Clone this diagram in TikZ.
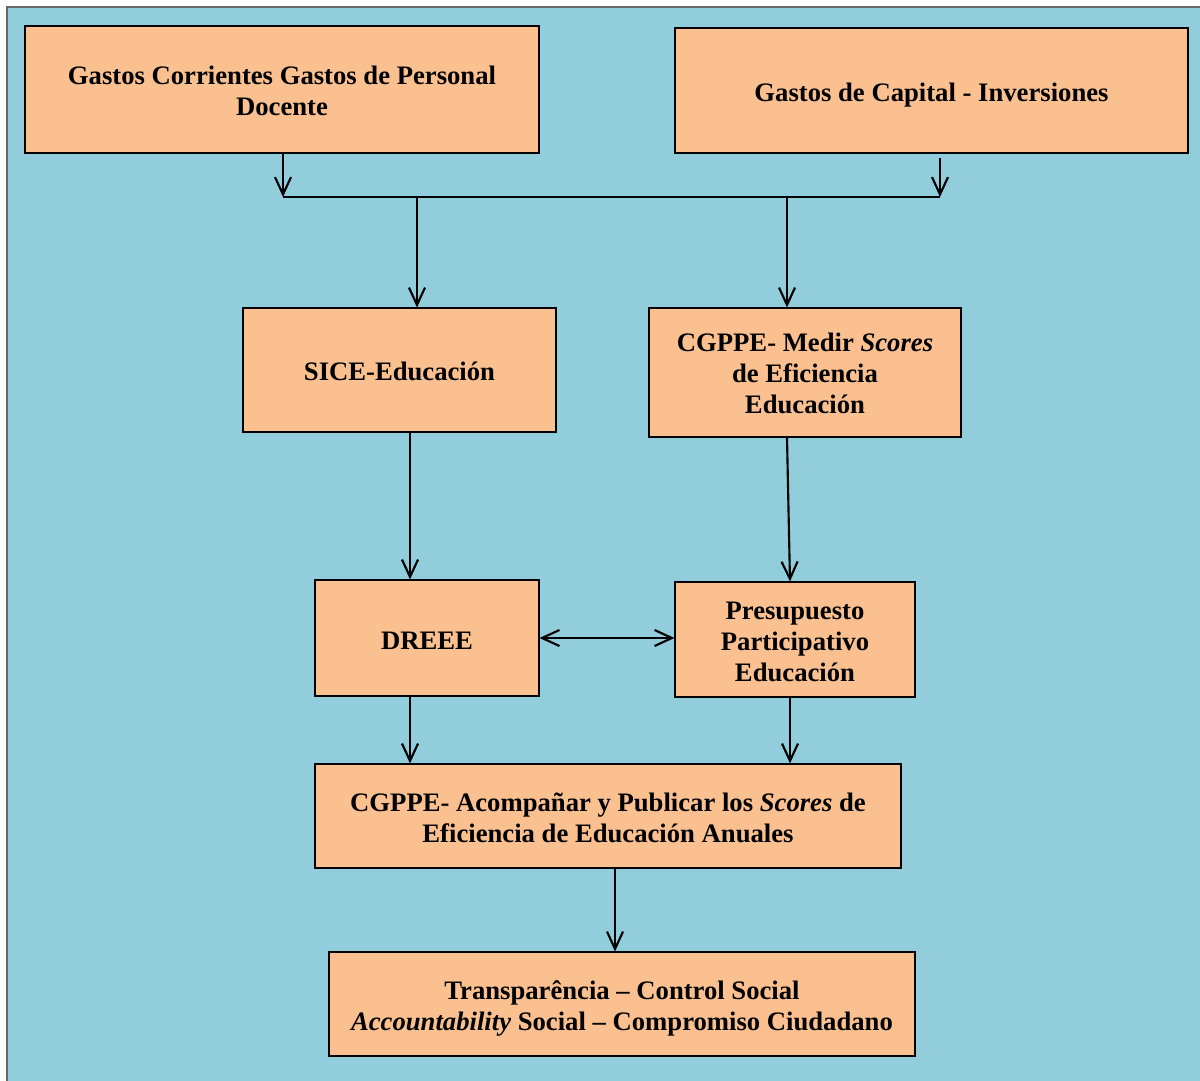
\documentclass[tikz,border=0pt]{standalone}
\usepackage{fontspec}
\setmainfont{Liberation Serif}
\usetikzlibrary{arrows.meta,calc}
\definecolor{bgblue}{HTML}{92CDDC}
\definecolor{boxorange}{HTML}{FAC08F}
\begin{document}
\begin{tikzpicture}[x=0.75pt,y=-0.75pt,
  box/.style={draw=black, line width=0.8pt, fill=boxorange, inner sep=0pt},
  txt/.style={inner sep=0pt, align=center, font=\fontsize{20}{23.25}\selectfont\bfseries},
  tip/.style={Straight Barb[length=13pt,width=12pt,line width=1.6pt]},
  arr/.style={line width=1.6pt, -{Straight Barb[length=13pt,width=12pt,line width=1.6pt]}},
  dbl/.style={line width=1.6pt, {Straight Barb[length=13pt,width=12pt,line width=1.6pt]}-{Straight Barb[length=13pt,width=12pt,line width=1.6pt]}},
  bus/.style={line width=1.6pt}]
\useasboundingbox (0,0) rectangle (1200,1081);
\fill[white] (0,0) rectangle (1200,1081);
\fill[bgblue] (7,7) rectangle (1200,1081);
\draw[gray!80!black, line width=1pt] (7,1081) -- (7,7) -- (1200,7);

\node[box, minimum width=385.5pt, minimum height=95.25pt] (a) at (282,89.5) {};
\node[box, minimum width=384.75pt, minimum height=93.75pt] (b) at (931.5,90.5) {};
\node[box, minimum width=234.75pt, minimum height=93pt] (c) at (399.5,370) {};
\node[box, minimum width=234pt, minimum height=96.75pt] (d) at (805,372.5) {};
\node[box, minimum width=168pt, minimum height=87pt] (e) at (427,638) {};
\node[box, minimum width=180pt, minimum height=86.25pt] (f) at (795,639.5) {};
\node[box, minimum width=439.5pt, minimum height=78pt] (g) at (608,816) {};
\node[box, minimum width=439.5pt, minimum height=78pt] (h) at (622,1004) {};

\node[txt] (ta) at ($(a.center)+(0,1)$) {Gastos Corrientes Gastos de Personal\\Docente};
\node[txt] (tb) at ($(b.center)+(0,5)$) {Gastos de Capital - Inversiones};
\node[txt] (tc) at ($(c.center)+(0,1)$) {SICE-Educación};
\node[txt] (td) at ($(d.center)+(0,1)$) {CGPPE- Medir \textit{Scores}\\de Eficiencia\\Educación};
\node[txt] (te) at ($(e.center)+(0,3)$) {DREEE};
\node[txt] (tf) at ($(f.center)+(0,2)$) {Presupuesto\\Participativo\\Educación};
\node[txt] (tg) at ($(g.center)+(0,1.5)$) {CGPPE- Acompañar y Publicar los \textit{Scores} de\\Eficiencia de Educación Anuales};
\node[txt] (th) at ($(h.center)+(0,4)$) {Transparência -- Control Social\\\textit{Accountability} Social -- Compromiso Ciudadano};

\coordinate (j1) at (283,197);
\coordinate (j2) at (940,197);
\coordinate (j3) at (417,197);
\coordinate (j4) at (787,197);
\coordinate (k1) at (410,0);
\coordinate (k2) at (790,0);
\coordinate (k3) at (615,0);

\draw[arr] (a.south -| j1) -- (j1);
\draw[arr] ($(b.south -| j2)+(0,4)$) -- (j2);
\draw[bus] (j1) -- (j2);
\draw[arr] (j3) -- (c.north -| j3);
\draw[arr] (j4) -- (d.north -| j4);
\draw[arr] (c.south -| k1) -- (e.north -| k1);
\draw[arr] (d.south -| j4) -- (f.north -| k2);
\draw[dbl] (e.east) -- (f.west |- e.east);
\draw[arr] (e.south -| k1) -- (g.north -| k1);
\draw[arr] (f.south -| k2) -- (g.north -| k2);
\draw[arr] (g.south -| k3) -- (h.north -| k3);
\end{tikzpicture}
\end{document}
